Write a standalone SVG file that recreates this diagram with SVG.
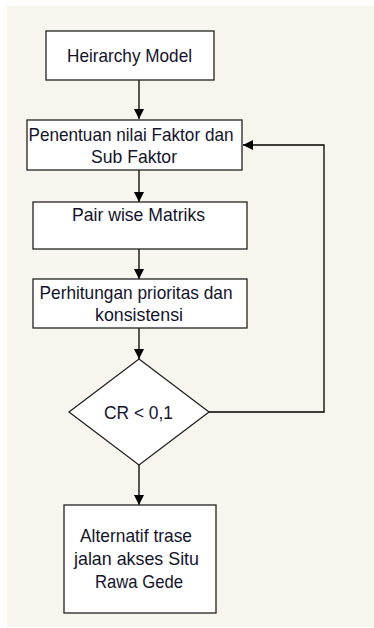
<svg xmlns="http://www.w3.org/2000/svg" width="374" height="628" viewBox="0 0 374 628">
<defs>
<marker id="ah" viewBox="0 0 10 10" refX="10" refY="5" markerWidth="10" markerHeight="10" markerUnits="userSpaceOnUse" orient="auto">
<path d="M0,0 L10,5 L0,10 Z" fill="#000"/>
</marker>
<style>
.n{fill:#fff;stroke:#222;stroke-width:1.3}
.t{font-family:"Liberation Sans",Arial,sans-serif;font-size:19px;fill:#14142a}
.c{fill:none;stroke:#000;stroke-width:1.3}
</style>
</defs>
<rect x="7" y="6" width="367" height="621" fill="#f8f5ee"/>
<g id="connectors">
<line class="c" x1="139" y1="80" x2="139" y2="119" marker-end="url(#ah)"/>
<line class="c" x1="139" y1="170" x2="139" y2="202" marker-end="url(#ah)"/>
<line class="c" x1="139" y1="249" x2="139" y2="279" marker-end="url(#ah)"/>
<line class="c" x1="139" y1="328" x2="139" y2="359" marker-end="url(#ah)"/>
<line class="c" x1="139" y1="465" x2="139" y2="505" marker-end="url(#ah)"/>
<polyline class="c" points="209,412 324,412 324,145 243,145" marker-end="url(#ah)"/>
</g>
<g id="heirarchy">
<rect class="n" x="46" y="31" width="168" height="49"/>
<text class="t" x="67" y="62" textLength="125" lengthAdjust="spacingAndGlyphs">Heirarchy Model</text>
</g>
<g id="penentuan">
<rect class="n" x="27" y="120" width="215" height="50"/>
<text class="t" x="28.5" y="140.5" textLength="205" lengthAdjust="spacingAndGlyphs">Penentuan nilai Faktor dan</text>
<text class="t" x="91" y="162.5" textLength="86" lengthAdjust="spacingAndGlyphs">Sub Faktor</text>
</g>
<g id="pairwise">
<rect class="n" x="33" y="202" width="214" height="47"/>
<text class="t" x="72" y="220.5" textLength="133" lengthAdjust="spacingAndGlyphs">Pair wise Matriks</text>
</g>
<g id="perhitungan">
<rect class="n" x="33" y="279" width="214" height="49"/>
<text class="t" x="39.5" y="298.5" textLength="193" lengthAdjust="spacingAndGlyphs">Perhitungan prioritas dan</text>
<text class="t" x="95" y="320.5" textLength="88" lengthAdjust="spacingAndGlyphs">konsistensi</text>
</g>
<g id="cr">
<polygon class="n" points="139,359 209,412 139,465 69,412"/>
<text class="t" x="104" y="418.5" textLength="69" lengthAdjust="spacingAndGlyphs">CR &lt; 0,1</text>
</g>
<g id="alternatif">
<rect class="n" x="64" y="505" width="152" height="108"/>
<text class="t" x="80" y="541.5" textLength="112" lengthAdjust="spacingAndGlyphs">Alternatif trase</text>
<text class="t" x="74" y="564.5" textLength="125" lengthAdjust="spacingAndGlyphs">jalan akses Situ</text>
<text class="t" x="95" y="587.5" textLength="88" lengthAdjust="spacingAndGlyphs">Rawa Gede</text>
</g>
</svg>
